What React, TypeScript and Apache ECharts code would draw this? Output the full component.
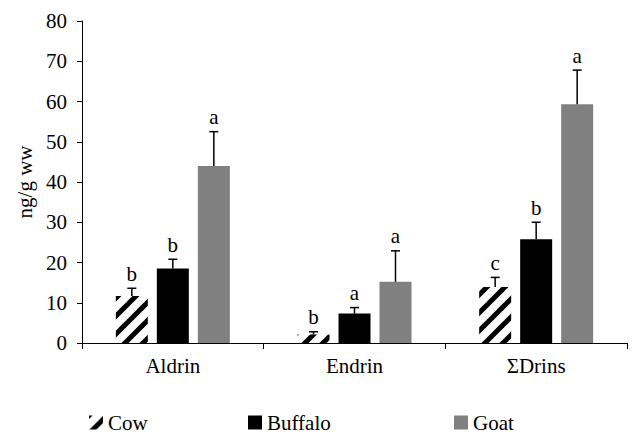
import React, { useEffect, useRef } from "react";
import * as echarts from "echarts";

const categories = ["Aldrin", "Endrin", "ΣDrins"];
const cowValues = [11.7, 2.1, 13.9];
const cowUpper = [13.6, 2.8, 16.3];
const buffaloValues = [18.5, 7.3, 25.8];
const buffaloUpper = [20.8, 8.8, 30.0];
const goatValues = [44.0, 15.2, 59.3];
const goatUpper = [52.5, 22.9, 67.8];
const cowLetters = ["b", "b", "c"];
const buffaloLetters = ["b", "a", "b"];
const goatLetters = ["a", "a", "a"];
const yTicks = { min: 0, max: 80, interval: 10 };

const FONT = "Liberation Serif";
const FS = 21;
const BAR_W = 32;
const GAP = 9;

function makeHatch(): HTMLCanvasElement {
  const s = 18;
  const c = document.createElement("canvas");
  c.width = s;
  c.height = s;
  const ctx = c.getContext("2d")!;
  ctx.fillStyle = "#fff";
  ctx.fillRect(0, 0, s, s);
  ctx.strokeStyle = "#000";
  ctx.lineWidth = 5;
  ctx.lineCap = "square";
  const seg = (x1: number, y1: number, x2: number, y2: number) => {
    ctx.beginPath();
    ctx.moveTo(x1, y1);
    ctx.lineTo(x2, y2);
    ctx.stroke();
  };
  seg(-2, s + 2, s + 2, -2);
  seg(-s / 2 - 2, s / 2 + 2, s / 2 + 2, -s / 2 - 2);
  seg(s / 2 - 2, (3 * s) / 2 + 2, (3 * s) / 2 + 2, s / 2 - 2);
  return c;
}

export default function App() {
  const ref = useRef<HTMLDivElement>(null);
  useEffect(() => {
    if (!ref.current) return;
    const chart = echarts.init(ref.current, null, { renderer: "svg" });
    const means = [cowValues, buffaloValues, goatValues];
    const uppers = [cowUpper, buffaloUpper, goatUpper];
    const letters = [cowLetters, buffaloLetters, goatLetters];
    const errData: any[] = [];
    const errLetters: string[] = [];
    for (let s = 0; s < 3; s++) {
      for (let i = 0; i < categories.length; i++) {
        errData.push([i, means[s][i], uppers[s][i], s]);
        errLetters.push(letters[s][i]);
      }
    }
    const hatch = { image: makeHatch(), repeat: "repeat" };
    const txt = { fontFamily: FONT, fontSize: FS, color: "#000" };
    const legendBase = {
      top: 407,
      itemWidth: 14,
      itemHeight: 14,
      icon: "rect",
      textStyle: txt,
    };
    chart.setOption({
      animation: false,
      legend: [
        { ...legendBase, left: 84, data: ["Cow"] },
        { ...legendBase, left: 243, data: ["Buffalo"] },
        { ...legendBase, left: 449, data: ["Goat"] },
      ],
      grid: { left: 82, top: 21, right: 15, bottom: 97 },
      xAxis: {
        type: "category",
        data: categories,
        boundaryGap: true,
        axisLine: { lineStyle: { color: "#000", width: 1 } },
        axisTick: { show: true, length: 6, alignWithLabel: false, lineStyle: { color: "#000" } },
        axisLabel: { ...txt, margin: 12 },
      },
      yAxis: {
        type: "value",
        min: yTicks.min,
        max: yTicks.max,
        interval: yTicks.interval,
        name: "ng/g ww",
        nameLocation: "middle",
        nameRotate: 90,
        nameGap: 46,
        nameTextStyle: txt,
        axisLine: { show: true, lineStyle: { color: "#000", width: 1 } },
        axisTick: { show: true, length: 5, lineStyle: { color: "#000" } },
        splitLine: { show: false },
        axisLabel: { ...txt, margin: 15 },
      },
      series: [
        {
          name: "Cow",
          type: "bar",
          data: cowValues,
          barWidth: BAR_W,
          barGap: (GAP / BAR_W) * 100 + "%",
          itemStyle: { color: hatch },
        },
        {
          name: "Buffalo",
          type: "bar",
          data: buffaloValues,
          barWidth: BAR_W,
          itemStyle: { color: "#000" },
        },
        {
          name: "Goat",
          type: "bar",
          data: goatValues,
          barWidth: BAR_W,
          itemStyle: { color: "#808080" },
        },
        {
          name: "err",
          type: "custom",
          data: errData,
          encode: { x: 0, y: [1, 2] },
          z: 5,
          renderItem: (params: any, api: any) => {
            const cat = api.value(0);
            const mean = api.value(1);
            const up = api.value(2);
            const s = api.value(3);
            const p0 = api.coord([cat, mean]);
            const p1 = api.coord([cat, up]);
            const x = p0[0] + (s - 1) * (BAR_W + GAP);
            return {
              type: "group",
              children: [
                { type: "line", shape: { x1: x, y1: p0[1], x2: x, y2: p1[1] }, style: { stroke: "#000", lineWidth: 1.5 } },
                { type: "line", shape: { x1: x - 4.5, y1: p1[1], x2: x + 4.5, y2: p1[1] }, style: { stroke: "#000", lineWidth: 1.5 } },
                {
                  type: "text",
                  x,
                  y: p1[1] - 4,
                  style: {
                    text: errLetters[params.dataIndex],
                    textAlign: "center",
                    textVerticalAlign: "bottom",
                    fontFamily: FONT,
                    fontSize: FS,
                    fill: "#000",
                  },
                },
              ],
            };
          },
        },
      ],
    });
    return () => chart.dispose();
  }, []);
  return <div ref={ref} style={{ width: 642, height: 440, position: "absolute", left: 0, top: 0 }} />;
}
